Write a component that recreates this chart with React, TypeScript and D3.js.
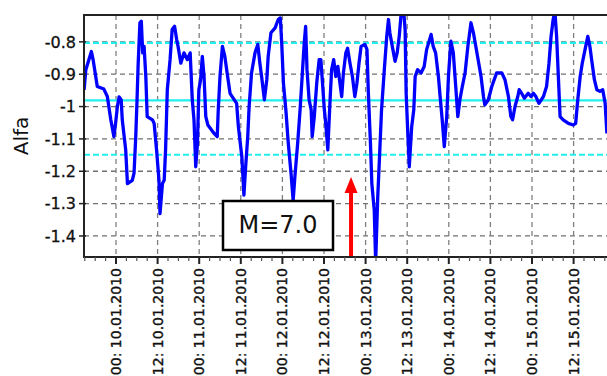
import React from "react";
import * as d3 from "d3";

// hours relative to 00:00 10.01.2010
const hours = [
  -9.2, -8.7, -7.1, -6.6, -5.4, -3.5, -2.5, -1.5, -0.6, -0.1, 0.4, 0.9, 1.5, 1.8, 2.8, 3.3, 4.7, 5.2, 5.7, 6.1,
  6.4, 6.9, 7.3, 7.7, 8.1, 8.6, 9.0, 10.5, 11.0, 11.7, 12.4, 12.7, 13.4, 13.9, 14.3, 14.8, 15.6, 16.2, 16.9, 17.5,
  17.9, 18.7, 19.6, 20.6, 21.4, 22.0, 22.5, 23.0, 23.5, 23.9, 24.4, 24.9, 25.4, 25.9, 26.5, 28.3, 29.2, 29.5, 30.0, 30.7,
  31.4, 32.2, 32.9, 33.8, 34.8, 35.3, 36.3, 36.9, 37.4, 38.0, 38.4, 39.1, 40.1, 40.9, 41.5, 42.0, 42.8, 43.5, 43.9, 44.7,
  45.9, 46.8, 47.4, 47.8, 48.3, 49.0, 49.7, 50.5, 51.1, 51.6, 52.4, 53.1, 53.7, 54.3, 54.7, 55.1, 55.7, 56.3, 56.6, 57.2,
  57.9, 58.6, 59.1, 59.5, 60.1, 60.5, 61.1, 61.4, 61.8, 62.2, 62.8, 63.4, 64.0, 64.6, 65.1, 65.6, 66.3, 66.8, 67.5, 68.2,
  68.9, 69.5, 70.1, 70.7, 71.8, 72.4, 72.8, 73.4, 73.8, 74.5, 74.9, 75.5, 76.1, 76.6, 77.4, 78.1, 78.6, 79.0, 79.7, 80.5,
  81.1, 81.7, 82.2, 83.0, 83.4, 83.7, 84.1, 84.6, 85.3, 85.9, 86.3, 87.0, 88.0, 88.9, 89.6, 90.9, 91.5, 92.2, 93.0, 93.5,
  94.1, 94.7, 95.4, 95.9, 96.6, 97.3, 98.0, 98.6, 99.2, 99.9, 100.7, 101.5, 102.4, 103.1, 104.3, 105.3, 106.0, 106.4, 107.4, 108.4,
  109.8, 111.3, 112.2, 113.2, 113.9, 114.4, 115.1, 115.9, 116.3, 117.0, 117.8, 118.9, 119.7, 120.4, 121.1, 122.0, 123.3, 124.2, 124.9, 125.5,
  126.1, 126.6, 127.1, 127.6, 128.1, 129.0, 130.5, 131.9, 132.6, 133.2, 133.9, 134.5, 135.3, 136.1, 136.7, 137.2, 138.0, 138.7, 139.6, 140.4,
  141.1, 141.6,
];

const alfa = [
  -0.948, -0.886, -0.83, -0.855, -0.938, -0.946, -0.969, -1.041, -1.093, -1.05, -1.0, -0.97, -0.979, -1.04, -1.134, -1.238, -1.228, -1.206, -1.093, -0.969,
  -0.866, -0.741, -0.736, -0.834, -0.814, -0.907, -1.031, -1.041, -1.052, -1.134, -1.228, -1.331, -1.238, -1.228, -1.134, -0.948, -0.855, -0.762, -0.752, -0.793,
  -0.814, -0.866, -0.834, -0.855, -0.834, -0.979, -1.041, -1.186, -1.114, -0.948, -0.917, -0.845, -0.907, -1.031, -1.057, -1.083, -1.093, -1.01, -0.907, -0.814,
  -0.845, -0.907, -0.959, -0.974, -0.99, -1.062, -1.155, -1.274, -1.186, -1.093, -1.0, -0.896, -0.834, -0.808, -0.866, -0.907, -0.979, -0.917, -0.845, -0.772,
  -0.757, -0.731, -0.726, -0.803, -0.928, -1.01, -1.114, -1.207, -1.29, -1.217, -1.114, -1.01, -0.907, -0.803, -0.752, -0.886, -0.979, -1.01, -1.093, -1.031,
  -0.928, -0.855, -0.855, -0.917, -1.01, -1.052, -1.134, -1.062, -0.969, -0.886, -0.855, -0.907, -0.876, -0.928, -0.969, -0.896, -0.834, -0.82, -0.866, -0.907,
  -0.969, -0.928, -0.866, -0.814, -0.808, -0.824, -0.959, -1.114, -1.238, -1.321, -1.48, -1.28, -1.134, -1.01, -0.886, -0.783, -0.731, -0.772, -0.814, -0.86,
  -0.834, -0.783, -0.72, -0.705, -0.762, -0.959, -1.062, -1.186, -1.062, -1.01, -0.907, -0.886, -0.896, -0.876, -0.824, -0.777, -0.814, -0.834, -0.907, -0.969,
  -1.041, -1.124, -1.031, -0.907, -0.798, -0.834, -0.938, -1.031, -0.979, -0.938, -0.896, -0.814, -0.741, -0.772, -0.845, -0.907, -0.969, -0.995, -0.979, -0.938,
  -0.896, -0.896, -0.917, -0.969, -1.031, -1.041, -1.0, -0.969, -0.948, -0.959, -0.974, -0.959, -0.969, -0.959, -0.969, -0.99, -0.969, -0.938, -0.866, -0.783,
  -0.731, -0.705, -0.783, -0.907, -1.031, -1.041, -1.052, -1.057, -1.052, -0.979, -0.907, -0.866, -0.824, -0.783, -0.814, -0.855, -0.917, -0.948, -0.953, -0.948,
  -0.99, -1.083,
];

const yTickValues = [-0.8, -0.9, -1.0, -1.1, -1.2, -1.3, -1.4];
const yTickLabels = ["-0.8", "-0.9", "-1", "-1.1", "-1.2", "-1.3", "-1.4"];

const xTickHours = [0, 12, 24, 36, 48, 60, 72, 84, 96, 108, 120, 132];
const xTickLabels = [
  "00: 10.01.2010", "12: 10.01.2010", "00: 11.01.2010", "12: 11.01.2010",
  "00: 12.01.2010", "12: 12.01.2010", "00: 13.01.2010", "12: 13.01.2010",
  "00: 14.01.2010", "12: 14.01.2010", "00: 15.01.2010", "12: 15.01.2010",
];
const minorStepHours = 3;

const meanLevel = -0.981;
const bandLevels = [-0.803, -1.149];

const eventHour = 67.8;
const eventLabel = "M=7.0";
const yLabel = "Alfa";

export default function App() {
  const W = 607, H = 376;
  const left = 84, top = 15, bottom = 257, right = 640;
  const x = d3.scaleLinear().domain([-9.23, (right - 116) / (41.6 / 12)]).range([left, right]);
  const y = d3.scaleLinear().domain([-1.465, -0.717]).range([bottom, top]);
  const pts: [number, number][] = hours.map((h, i) => [h, alfa[i]]);
  const line = d3.line<[number, number]>().x((d) => x(d[0])).y((d) => y(d[1]));
  const minor = d3.range(-9, 150, minorStepHours).filter((h) => x(h) >= left && x(h) <= W && h % 12 !== 0);
  const font = "'DejaVu Sans', sans-serif";
  const ax = x(eventHour);

  return (
    <svg width={W} height={H} style={{ position: "absolute", left: 0, top: 0, background: "#fff" }}>
      <defs>
        <clipPath id="plot">
          <rect x={left} y={top} width={right - left} height={bottom - top} />
        </clipPath>
      </defs>
      {/* grid */}
      {yTickValues.map((v) => (
        <line key={"gy" + v} x1={left} x2={right} y1={y(v)} y2={y(v)} stroke="#707070" strokeWidth={1.3} strokeDasharray="5,4" />
      ))}
      {xTickHours.map((h) => (
        <line key={"gx" + h} x1={x(h)} x2={x(h)} y1={top} y2={bottom} stroke="#808080" strokeWidth={1.3} strokeDasharray="5,4" />
      ))}
      {/* reference levels */}
      <line x1={left} x2={right} y1={y(meanLevel)} y2={y(meanLevel)} stroke="#22eeee" strokeWidth={2.2} />
      {bandLevels.map((v) => (
        <line key={"b" + v} x1={left} x2={right} y1={y(v)} y2={y(v)} stroke="#22eeee" strokeWidth={2.2} strokeDasharray="6,3" />
      ))}
      {/* series */}
      <g clipPath="url(#plot)">
        <path d={line(pts) || ""} fill="none" stroke="#0000ff" strokeWidth={3.3} strokeLinejoin="round" />
      </g>
      {/* event box */}
      <rect x={223} y={201} width={110} height={49} fill="#fff" stroke="#000" strokeWidth={2.5} />
      <text x={278} y={233} textAnchor="middle" fontFamily={font} fontSize={24} fill="#111">{eventLabel}</text>
      {/* arrow */}
      <line x1={ax} x2={ax} y1={bottom} y2={191} stroke="#ff0000" strokeWidth={4} />
      <path d={`M${ax - 6.5},${193} L${ax},${177} L${ax + 6.5},${193} Z`} fill="#ff0000" />
      {/* axes frame */}
      <line x1={left} x2={W} y1={top} y2={top} stroke="#222" strokeWidth={2} />
      <line x1={left} x2={left} y1={top - 1} y2={bottom + 1} stroke="#222" strokeWidth={2} />
      <line x1={left} x2={W} y1={bottom} y2={bottom} stroke="#222" strokeWidth={2} />
      {/* y ticks */}
      {yTickValues.map((v, i) => (
        <g key={"yt" + v}>
          <line x1={left - 5} x2={left + 2} y1={y(v)} y2={y(v)} stroke="#222" strokeWidth={1.5} />
          <text x={76} y={y(v)} dy="0.36em" textAnchor="end" fontFamily={font} fontSize={16} fill="#111" stroke="#111" strokeWidth={0.3}>{yTickLabels[i]}</text>
        </g>
      ))}
      {/* x ticks */}
      {minor.map((h) => (
        <line key={"mx" + h} x1={x(h)} x2={x(h)} y1={bottom} y2={bottom + 4} stroke="#555" strokeWidth={1.2} />
      ))}
      {xTickHours.map((h, i) => (
        <g key={"xt" + h}>
          <line x1={x(h)} x2={x(h)} y1={bottom} y2={bottom + 7} stroke="#222" strokeWidth={2} />
          <text transform={`translate(${x(h)},268) rotate(-90)`} dy="0.36em" textAnchor="end" fontFamily={font} fontSize={14} fill="#111" stroke="#111" strokeWidth={0.4}>{xTickLabels[i]}</text>
        </g>
      ))}
      <text transform="translate(28,136) rotate(-90)" textAnchor="middle" fontFamily={font} fontSize={20} fill="#111">{yLabel}</text>
    </svg>
  );
}
